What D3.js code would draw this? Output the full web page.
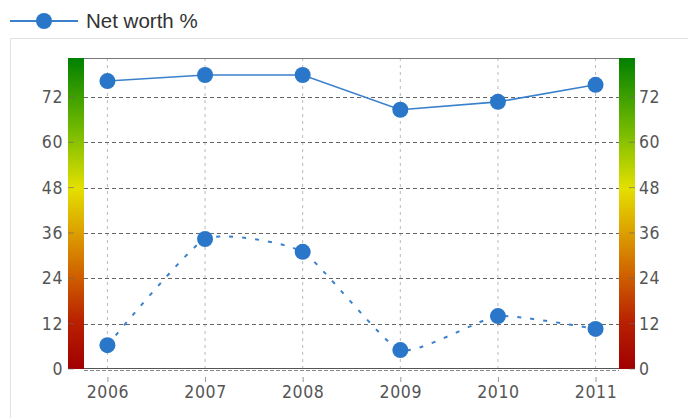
<!DOCTYPE html>
<html>
<head>
<meta charset="utf-8">
<script src="https://cdn.jsdelivr.net/npm/d3@7"></script>
<style>
  body { margin: 0; background: #fff; }
  svg { display: block; }
</style>
</head>
<body>
<div id="chart"></div>
<script>
// chart values
var years = ['2006', '2007', '2008', '2009', '2010', '2011'];
var netWorth = [76.2, 77.8, 77.8, 68.6, 70.7, 75.2];
var otherSeries = [6.3, 34.4, 31.0, 5.0, 14.0, 10.6];
var yTicks = [0, 12, 24, 36, 48, 60, 72];
var legendLabel = 'Net worth %';

var width = 688, height = 418,
    plot = { left: 84, right: 619, top: 58, bottom: 369 };

var svg = d3.select('#chart').append('svg')
    .attr('width', width)
    .attr('height', height);

var x = d3.scalePoint().domain(years).range([plot.left, plot.right]).padding(0.24),
    y = d3.scaleLinear().domain([0, 82.3]).range([plot.bottom, plot.top]);

// colour scale for the side bars
var defs = svg.append('defs');
var grad = defs.append('linearGradient')
    .attr('id', 'band')
    .attr('x1', 0).attr('y1', 1).attr('x2', 0).attr('y2', 0);
[[0, '#a00000'], [0.15, '#b82000'], [0.3, '#cf6000'], [0.44, '#dca000'],
 [0.58, '#e4e000'], [0.76, '#78bc00'], [1, '#008000']].forEach(function (s) {
    grad.append('stop').attr('offset', s[0]).attr('stop-color', s[1]);
});

// outer panel
svg.append('rect')
    .attr('x', 10.5).attr('y', 38.5)
    .attr('width', 690).attr('height', 400)
    .attr('fill', 'none').attr('stroke', '#e2e2e2');

// legend
var legend = svg.append('g').attr('transform', 'translate(0, 21)');
legend.append('line')
    .attr('x1', 10).attr('x2', 78).attr('y1', 0).attr('y2', 0)
    .attr('stroke', '#3a80cc').attr('stroke-width', 2);
legend.append('circle')
    .attr('cx', 44).attr('cy', 0).attr('r', 8)
    .attr('fill', '#2a77c9');
legend.append('text')
    .attr('x', 86).attr('y', 7)
    .attr('font-family', 'Liberation Sans, Arial, sans-serif')
    .attr('font-size', 20.5)
    .attr('fill', '#333')
    .text(legendLabel);

// side gradient bars
svg.append('rect')
    .attr('x', 68).attr('y', plot.top)
    .attr('width', 16).attr('height', plot.bottom - plot.top)
    .attr('fill', 'url(#band)');
svg.append('rect')
    .attr('x', plot.right).attr('y', plot.top)
    .attr('width', 16).attr('height', plot.bottom - plot.top)
    .attr('fill', 'url(#band)');

// grid
var grid = svg.append('g');
grid.selectAll('.vgrid').data(years).enter().append('line')
    .attr('class', 'vgrid')
    .attr('x1', function (d) { return x(d); })
    .attr('x2', function (d) { return x(d); })
    .attr('y1', plot.top).attr('y2', plot.bottom)
    .attr('stroke', '#bbb').attr('stroke-dasharray', '3,4');
grid.selectAll('.hgrid').data(yTicks.slice(1)).enter().append('line')
    .attr('class', 'hgrid')
    .attr('x1', plot.left).attr('x2', plot.right)
    .attr('y1', function (d) { return Math.round(y(d)) + 0.5; })
    .attr('y2', function (d) { return Math.round(y(d)) + 0.5; })
    .attr('stroke', '#666').attr('stroke-dasharray', '4,3');

// top border and base line
svg.append('line')
    .attr('x1', plot.left).attr('x2', plot.right)
    .attr('y1', plot.top + 0.5).attr('y2', plot.top + 0.5)
    .attr('stroke', '#777');
svg.append('line')
    .attr('x1', plot.left).attr('x2', plot.right)
    .attr('y1', plot.bottom - 0.5).attr('y2', plot.bottom - 0.5)
    .attr('stroke', '#555').attr('stroke-width', 1);
svg.append('line')
    .attr('x1', plot.left).attr('x2', plot.right)
    .attr('y1', plot.bottom + 1.5).attr('y2', plot.bottom + 1.5)
    .attr('stroke', '#888').attr('stroke-dasharray', '4,2');

// axes
var font = 'DejaVu Sans Condensed, DejaVu Sans, sans-serif';
var leftAxis = svg.append('g')
    .attr('transform', 'translate(74,0)')
    .call(d3.axisLeft(y).tickValues(yTicks).tickSize(0).tickPadding(11));
var rightAxis = svg.append('g')
    .attr('transform', 'translate(629,0)')
    .call(d3.axisRight(y).tickValues(yTicks).tickSize(0).tickPadding(10));
var bottomAxis = svg.append('g')
    .attr('transform', 'translate(0,' + (plot.bottom + 8) + ')')
    .call(d3.axisBottom(x).tickSize(5).tickPadding(4));

[leftAxis, rightAxis, bottomAxis].forEach(function (a) {
    a.select('.domain').remove();
    a.selectAll('text')
        .attr('font-family', font)
        .attr('font-size', 17.5)
        .attr('letter-spacing', '0.6px')
        .attr('fill', '#555');
    a.selectAll('line').attr('stroke', '#999');
});

// small dashes on the side bars at each tick
[68, 629].forEach(function (bx) {
    svg.selectAll(null).data(yTicks).enter().append('line')
        .attr('x1', bx).attr('x2', bx + 6)
        .attr('y1', function (d) { return y(d); })
        .attr('y2', function (d) { return y(d); })
        .attr('stroke', '#666').attr('stroke-opacity', 0.6);
});

// series
var solidLine = d3.line()
    .x(function (d, i) { return x(years[i]); })
    .y(function (d) { return y(d); });
var dashedLine = d3.line()
    .x(function (d, i) { return x(years[i]); })
    .y(function (d) { return y(d); })
    .curve(d3.curveCardinal.tension(0.5));

svg.append('path')
    .attr('d', solidLine(netWorth))
    .attr('fill', 'none')
    .attr('stroke', '#3a80cc').attr('stroke-width', 1.6);
svg.append('path')
    .attr('d', dashedLine(otherSeries))
    .attr('fill', 'none')
    .attr('stroke', '#3a80cc').attr('stroke-width', 2)
    .attr('stroke-dasharray', '4,9');

svg.append('g').selectAll('circle').data(netWorth).enter().append('circle')
    .attr('cx', function (d, i) { return x(years[i]); })
    .attr('cy', function (d) { return y(d); })
    .attr('r', 8)
    .attr('fill', '#2a77c9');
svg.append('g').selectAll('circle').data(otherSeries).enter().append('circle')
    .attr('cx', function (d, i) { return x(years[i]); })
    .attr('cy', function (d) { return y(d); })
    .attr('r', 8)
    .attr('fill', '#2a77c9');
</script>
</body>
</html>
